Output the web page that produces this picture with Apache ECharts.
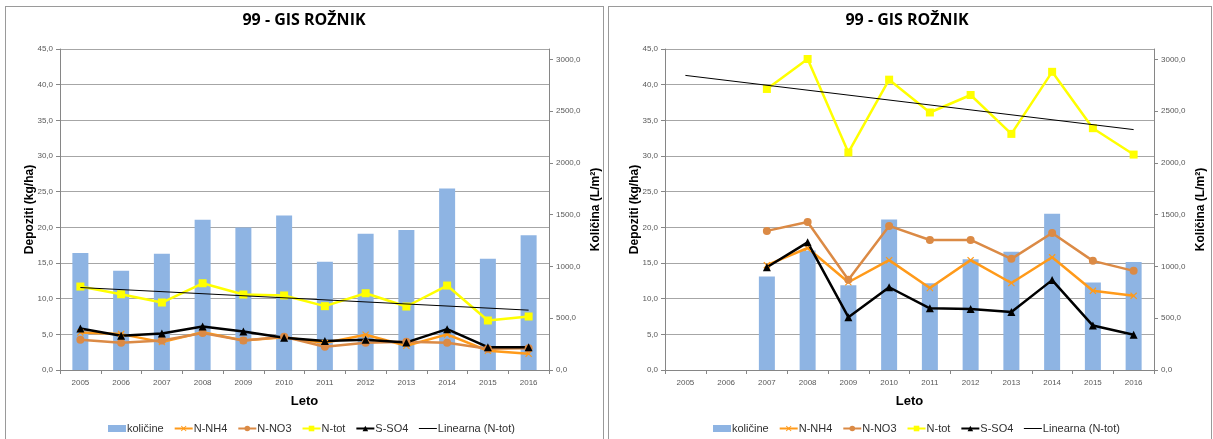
<!DOCTYPE html>
<html>
<head>
<meta charset="utf-8">
<script src="https://cdn.jsdelivr.net/npm/echarts@6/dist/echarts.min.js"></script>
<style>
  html, body { margin: 0; padding: 0; background: #fff; overflow: hidden; width: 1213px; height: 439px; }
  .box { position: absolute; border: 1px solid #9a9a9a; box-sizing: border-box; }
  #b1 { left: 5px; top: 6px; width: 599px; height: 450px; }
  #b2 { left: 608px; top: 6px; width: 604px; height: 450px; }
  .chart { position: absolute; }
  #c1 { left: 6px; top: 7px; width: 600px; height: 432px; }
  #c2 { left: 609px; top: 7px; width: 604px; height: 432px; }
</style>
</head>
<body>
<div id="b1" class="box"></div>
<div id="b2" class="box"></div>
<div id="c1" class="chart"></div>
<div id="c2" class="chart"></div>
<script>
// ---------- data ----------
const years = ['2005','2006','2007','2008','2009','2010','2011','2012','2013','2014','2015','2016'];
const chartTitle = '99 - GIS ROŽNIK';
const seriesNames = ['količine','N-NH4','N-NO3','N-tot','S-SO4','Linearna (N-tot)'];

// left chart
const leftKolicine = [1130, 958, 1122, 1452, 1375, 1493, 1046, 1315, 1353, 1753, 1075, 1302];
const leftNNH4 = [5.27, 5.03, 3.91, 5.30, 4.15, 4.60, 3.80, 4.94, 3.40, 4.99, 2.70, 2.28];
const leftNNO3 = [4.24, 3.82, 4.15, 5.17, 4.15, 4.66, 3.26, 3.82, 3.96, 3.82, 2.98, 3.05];
const leftNtot = [11.70, 10.62, 9.46, 12.16, 10.58, 10.45, 8.95, 10.76, 8.90, 11.84, 6.94, 7.50];
const leftSSO4 = [5.82, 4.80, 5.13, 6.10, 5.40, 4.52, 4.05, 4.24, 3.87, 5.73, 3.20, 3.20];
const leftTrend = [11.56, null, null, null, null, null, null, null, null, null, null, 8.39];

// right chart
const rightKolicine = [null, null, 902, 1155, 819, 1453, 838, 1069, 1142, 1510, 845, 1043];
const rightNNH4 = [null, null, 14.7, 17.1, 12.3, 15.4, 11.5, 15.4, 12.2, 15.8, 11.1, 10.4];
const rightNNO3 = [null, null, 19.5, 20.74, 12.65, 20.2, 18.23, 18.23, 15.58, 19.2, 15.3, 13.9];
const rightNtot = [null, null, 39.4, 43.6, 30.5, 40.7, 36.1, 38.55, 33.1, 41.8, 33.9, 30.2];
const rightSSO4 = [null, null, 14.4, 17.9, 7.4, 11.6, 8.65, 8.56, 8.14, 12.6, 6.23, 4.93];
const rightTrend = [41.3, null, null, null, null, null, null, null, null, null, null, 33.7];

// axes
const leftAxisName = 'Depoziti (kg/ha)';
const rightAxisName = 'Količina (L/m²)';
const xAxisName = 'Leto';
const leftMax = 45, leftStep = 5;
const rightMax = 3100, rightStep = 500;

// ---------- styling ----------
const FONT = '"Liberation Sans", Arial, sans-serif';
const TITLE_FONT = '"Open Sans", "Noto Sans", sans-serif';
const C_BAR = '#8EB4E3', C_NH4 = '#FF9A1A', C_NO3 = '#DB8A45', C_NTOT = '#FFFF00', C_SO4 = '#000000';
const CROSS = 'path://M0,1.2 L1.2,0 L5,3.8 L8.8,0 L10,1.2 L6.2,5 L10,8.8 L8.8,10 L5,6.2 L1.2,10 L0,8.8 L3.8,5 Z';
const fmt = v => v.toFixed(1).replace('.', ',');

function buildOption(d) {
  const lineBase = (name, data, color, symbol, size) => ({
    name, type: 'line', data, yAxisIndex: 0,
    symbol, symbolSize: size, showSymbol: true,
    lineStyle: { color, width: 2.5 },
    itemStyle: { color, borderColor: color, borderWidth: 0 },
    connectNulls: false, animation: false, z: 3
  });
  return {
    animation: false,
    title: {
      text: chartTitle, left: d.titleX, textAlign: 'center', top: 0,
      textStyle: { fontFamily: TITLE_FONT, fontSize: 16, fontWeight: 'bold', color: '#000' }
    },
    legend: {
      top: 411, left: d.legendLeft, itemGap: 10, itemWidth: 18, itemHeight: 7,
      textStyle: { fontFamily: FONT, fontSize: 11, color: '#303030', padding: [0,0,0,-4] },
      data: [
        { name: seriesNames[0], icon: 'rect', itemStyle: { color: C_BAR } },
        { name: seriesNames[1] }, { name: seriesNames[2] }, { name: seriesNames[3] },
        { name: seriesNames[4] },
        { name: seriesNames[5], itemStyle: { opacity: 0 }, lineStyle: { color: '#000', width: 1 } }
      ]
    },
    grid: { left: d.gridLeft, right: d.gridRight, top: 42, height: 321, outerBoundsMode: 'none', containLabel: false },
    xAxis: {
      type: 'category', data: years, boundaryGap: true,
      name: xAxisName, nameLocation: 'middle', nameGap: 25,
      nameTextStyle: { fontFamily: FONT, fontSize: 13, fontWeight: 'bold', color: '#000' },
      axisLine: { lineStyle: { color: '#868686', width: 1 } },
      axisTick: { show: true, alignWithLabel: false, length: 4, lineStyle: { color: '#868686' } },
      axisLabel: { fontFamily: FONT, fontSize: 8, color: '#595959', margin: 9 }
    },
    yAxis: [
      {
        type: 'value', min: 0, max: leftMax, interval: leftStep, position: 'left',
        name: leftAxisName, nameLocation: 'middle', nameGap: 24, nameMoveOverlap: false,
        nameTextStyle: { fontFamily: FONT, fontSize: 12, fontWeight: 'bold', color: '#000' },
        axisLine: { show: true, lineStyle: { color: '#868686' } },
        axisTick: { show: true, length: 4, lineStyle: { color: '#868686' } },
        axisLabel: { fontFamily: FONT, fontSize: 8, color: '#595959', margin: 7, formatter: fmt },
        splitLine: { show: true, lineStyle: { color: '#A6A6A6', width: 1 } }
      },
      {
        type: 'value', min: 0, max: rightMax, interval: rightStep, position: 'right',
        name: rightAxisName, nameLocation: 'middle', nameGap: 41, nameMoveOverlap: false,
        nameTextStyle: { fontFamily: FONT, fontSize: 12, fontWeight: 'bold', color: '#000' },
        axisLine: { show: true, lineStyle: { color: '#868686' } },
        axisTick: { show: true, length: 4, lineStyle: { color: '#868686' } },
        axisLabel: { fontFamily: FONT, fontSize: 8, color: '#595959', margin: 7, showMaxLabel: false,
          formatter: v => (v > 3000 ? '' : fmt(v)) },
        splitLine: { show: false }
      }
    ],
    series: [
      { name: seriesNames[0], type: 'bar', yAxisIndex: 1, data: d.kol, barWidth: 16,
        itemStyle: { color: C_BAR }, z: 2 },
      lineBase(seriesNames[1], d.nh4, C_NH4, CROSS, 7),
      lineBase(seriesNames[2], d.no3, C_NO3, 'circle', 8),
      lineBase(seriesNames[3], d.ntot, C_NTOT, 'rect', 8),
      lineBase(seriesNames[4], d.so4, C_SO4, 'triangle', 8),
      { name: seriesNames[5], type: 'line', data: d.trend, connectNulls: true,
        symbol: 'none', showSymbol: false, lineStyle: { color: '#000', width: 1 },
        itemStyle: { color: '#000' }, z: 4 }
    ]
  };
}

const ch1 = echarts.init(document.getElementById('c1'), null, { renderer: 'canvas' });
ch1.setOption(buildOption({
  kol: leftKolicine, nh4: leftNNH4, no3: leftNNO3, ntot: leftNtot, so4: leftSSO4, trend: leftTrend,
  legendLeft: 97, gridLeft: 54, gridRight: 57, titleX: 293
}));

const ch2 = echarts.init(document.getElementById('c2'), null, { renderer: 'canvas' });
ch2.setOption(buildOption({
  kol: rightKolicine, nh4: rightNNH4, no3: rightNNO3, ntot: rightNtot, so4: rightSSO4, trend: rightTrend,
  legendLeft: 99, gridLeft: 56, gridRight: 59, titleX: 293
}));
</script>
</body>
</html>
